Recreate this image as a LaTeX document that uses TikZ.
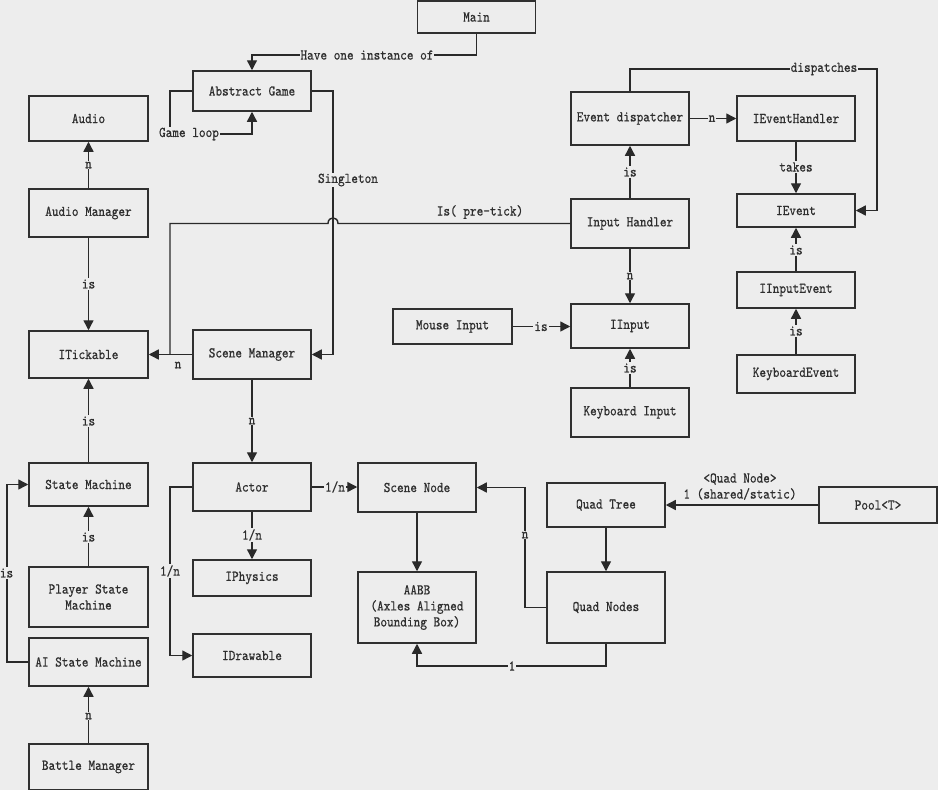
\documentclass[tikz,border=0pt]{standalone}
\usepackage{fontspec}
\newfontfamily\diagfont[FakeStretch=0.85,FakeBold=0.6]{lmmono10-regular.otf}
\usetikzlibrary{arrows.meta}
\definecolor{bgc}{HTML}{EDEDED}
\definecolor{boxc}{HTML}{303030}
\definecolor{linec}{HTML}{2A2A2A}
\definecolor{txtc}{HTML}{2E2E2E}
\tikzset{
  box/.style={draw=boxc, line width=1.5pt, fill=bgc, minimum width=118pt, inner sep=0pt,
    font=\diagfont\fontsize{14.9pt}{16pt}\selectfont, text=txtc, align=center},
  arr/.style={draw=linec, line width=1.4pt, -{Triangle[length=10pt,width=10pt]}},
  ln/.style={draw=linec, line width=1.4pt},
  lbl/.style={fill=bgc, inner sep=1pt, font=\diagfont\fontsize{14.9pt}{16pt}\selectfont, text=txtc},
  lblnf/.style={inner sep=1pt, font=\diagfont\fontsize{14.9pt}{16pt}\selectfont, text=txtc}
}
\begin{document}
\begin{tikzpicture}[x=1pt,y=-1pt]
\fill[bgc] (0,0) rectangle (938,790);
\useasboundingbox (0,0) rectangle (938,790);

% boxes
\node[box, minimum height=32pt] (main) at (476.5,17) {Main};
\node[box, minimum height=40pt] (ag) at (252,91) {Abstract Game};
\node[box, minimum width=119pt, minimum height=45pt] (audio) at (88.5,118.5) {Audio};
\node[box, minimum width=119pt, minimum height=48pt] (am) at (88.5,213) {Audio Manager};
\node[box, minimum width=119pt, minimum height=47pt] (itick) at (88.5,354.5) {ITickable};
\node[box, minimum height=49pt] (sm) at (252,354.5) {Scene Manager};
\node[box, minimum width=119pt, minimum height=43pt] (stm) at (88.5,484.5) {State Machine};
\node[box, minimum width=119pt, minimum height=60pt] (psm) at (88.5,597) {Player State\\Machine};
\node[box, minimum width=119pt, minimum height=48pt] (aism) at (88.5,662) {AI State Machine};
\node[box, minimum width=119pt, minimum height=46pt] (bm) at (88.5,767) {Battle Manager};
\node[box, minimum height=48pt] (actor) at (252,487) {Actor};
\node[box, minimum height=36pt] (iphys) at (252,578) {IPhysics};
\node[box, minimum height=43pt] (idraw) at (252,655.5) {IDrawable};
\node[box, minimum height=49pt] (sn) at (417,487.5) {Scene Node};
\node[box, minimum height=71pt] (aabb) at (417,607.5) {AABB\\(Axles Aligned\\Bounding Box)};
\node[box, minimum height=44pt] (qt) at (606,505) {Quad Tree};
\node[box, minimum height=71pt] (qn) at (606,607.5) {Quad Nodes};
\node[box, minimum height=36pt] (pool) at (878,505) {Pool<T>};
\node[box, minimum width=119pt, minimum height=35pt] (mi) at (452.5,326.5) {Mouse Input};
\node[box, minimum height=44pt] (ii) at (630,326) {IInput};
\node[box, minimum height=49pt] (ki) at (630,412.5) {Keyboard Input};
\node[box, minimum height=49pt] (ih) at (630,223.5) {Input Handler};
\node[box, minimum height=53pt] (ed) at (630,118.5) {Event dispatcher};
\node[box, minimum height=45pt] (ieh) at (796,118.5) {IEventHandler};
\node[box, minimum height=33pt] (ie) at (796,210.5) {IEvent};
\node[box, minimum height=36pt] (iie) at (796,290) {IInputEvent};
\node[box, minimum height=38pt] (ke) at (796,374) {KeyboardEvent};

% connectors
\draw[arr] (main.south) -- (476.5,55) -- (252,55) -- (ag.north);
\draw[arr] (ag.west) -- (170,91) -- (170,134) -- (252,134) -- (ag.south);
\draw[arr] (ag.east) -- (333,91) -- (333,354.5) -- (sm.east);
\draw[ln] (ih.west) -- (338,223.5) .. controls (338,216) and (328,216) .. (328,223.5) -- (170,223.5) -- (170,354.5);
\draw[arr] (sm.west) -- (itick.east);
\draw[arr] (am.north) -- (audio.south);
\draw[arr] (am.south) -- (itick.north);
\draw[arr] (stm.north) -- (itick.south);
\draw[arr] (psm.north) -- (stm.south);
\draw[arr] (aism.west) -- (7,662) -- (7,484.5) -- (stm.west);
\draw[arr] (bm.north) -- (aism.south);
\draw[arr] (sm.south) -- (actor.north);
\draw[arr] (actor.east) -- (actor.east -| sn.west);
\draw[arr] (actor.south) -- (iphys.north);
\draw[arr] (actor.west) -- (170,487) -- (170,655.5) -- (idraw.west);
\draw[arr] (sn.south) -- (aabb.north);
\draw[arr] (qt.south) -- (qn.north);
\draw[arr] (qn.west) -- (525,607.5) -- (525,487.5) -- (sn.east);
\draw[arr] (qn.south) -- (606,666) -- (417,666) -- (aabb.south);
\draw[arr] (pool.west) -- (qt.east);
\draw[arr] (mi.east) -- (mi.east -| ii.west);
\draw[arr] (ki.north) -- (ii.south);
\draw[arr] (ih.south) -- (ii.north);
\draw[arr] (ih.north) -- (ed.south);
\draw[arr] (ed.east) -- (ieh.west);
\draw[arr] (ieh.south) -- (ie.north);
\draw[arr] (ed.north) -- (630,69) -- (877,69) -- (877,210.5) -- (ie.east);
\draw[arr] (iie.north) -- (ie.south);
\draw[arr] (ke.north) -- (iie.south);

% labels
\node[lbl] (t1) at (367,55) {Have one instance of};
\node[lbl] (t2) at (189,134) {Game loop};
\node[lbl] (t3) at (348,180) {Singleton};
\node[lblnf] (t4) at (480,212) {Is( pre-tick)};
\node[lblnf] (t5) at (178,365) {n};
\node[lbl] (t6) at (88.5,165) {n};
\node[lbl] (t7) at (88.5,284) {is};
\node[lbl] (t8) at (88.5,421) {is};
\node[lbl] (t9) at (88.5,537) {is};
\node[lbl] (t10) at (6.5,573) {is};
\node[lbl] (t11) at (88.5,716) {n};
\node[lbl] (t12) at (252,421) {n};
\node[lbl] (t13) at (335,487) {1/n};
\node[lbl] (t14) at (252,535) {1/n};
\node[lbl] (t15) at (170,571) {1/n};
\node[lbl] (t16) at (525,535) {n};
\node[lbl] (t17) at (512,666) {1};
\node[lblnf] (t18) at (740,479) {<Quad Node>};
\node[lblnf] (t19) at (740,494) {1 (shared/static)};
\node[lbl] (t20) at (541,326.5) {is};
\node[lbl] (t21) at (630,368) {is};
\node[lbl] (t22) at (630,276) {n};
\node[lbl] (t23) at (630,172) {is};
\node[lbl] (t24) at (712,118.5) {n};
\node[lbl] (t25) at (796,167) {takes};
\node[lbl] (t26) at (824,69) {dispatches};
\node[lbl] (t27) at (796,250) {is};
\node[lbl] (t28) at (796,331) {is};
\end{tikzpicture}
\end{document}
